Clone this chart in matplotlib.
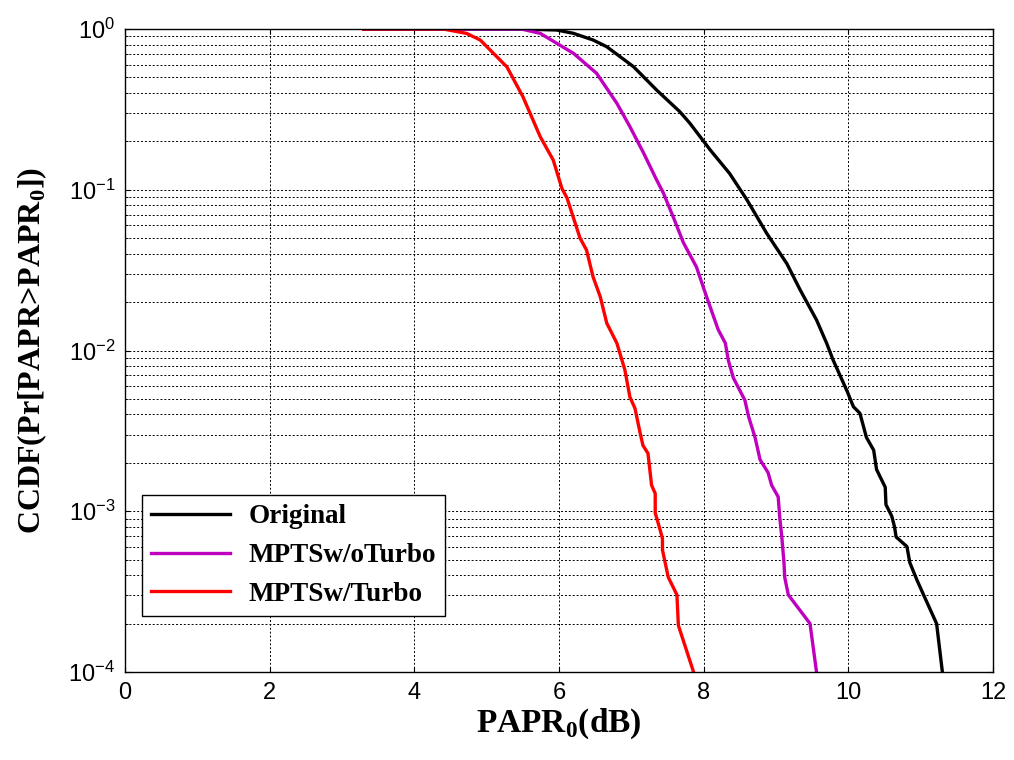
# CCDF of PAPR: original vs MPTS with and without turbo

import matplotlib
matplotlib.use('Agg')
import matplotlib.pyplot as plt
from matplotlib.ticker import LogLocator, NullFormatter

plt.rcParams['mathtext.fontset'] = 'custom'
plt.rcParams['mathtext.rm'] = 'Liberation Sans'
plt.rcParams['mathtext.bf'] = 'Liberation Serif:bold'
plt.rcParams['axes.unicode_minus'] = False

# PAPR0 (dB) / CCDF points for each curve
orig_x = [3.3, 5.48, 5.97, 6.20, 6.47, 6.66, 7.03, 7.35, 7.67, 7.81, 8.09, 8.36, 8.60,
          8.87, 9.15, 9.33, 9.56, 9.70, 9.79, 9.98, 10.07, 10.16, 10.25, 10.35, 10.39,
          10.51, 10.52, 10.60, 10.64, 10.66, 10.81, 10.85, 10.95, 11.04, 11.22, 11.30]
orig_y = [1.0, 1.0, 0.986, 0.940, 0.855, 0.776, 0.583, 0.417, 0.306, 0.259, 0.177, 0.126,
          0.0863, 0.0537, 0.0347, 0.0240, 0.0155, 0.0111, 0.00871, 0.00562, 0.00447,
          0.00407, 0.00288, 0.00240, 0.00182, 0.00141, 0.00110, 0.000933, 0.000794,
          0.000692, 0.000603, 0.000479, 0.000372, 0.000302, 0.000200, 1e-4]

noturbo_x = [3.3, 5.48, 5.74, 6.20, 6.52, 6.80, 6.98, 7.17, 7.35, 7.44, 7.58, 7.72, 7.90,
             8.04, 8.20, 8.30, 8.34, 8.41, 8.57, 8.62, 8.71, 8.78, 8.89, 8.94, 9.03,
             9.05, 9.08, 9.11, 9.12, 9.17, 9.47, 9.56]
noturbo_y = [1.0, 1.0, 0.940, 0.706, 0.530, 0.345, 0.247, 0.169, 0.115, 0.0960, 0.0676,
             0.0468, 0.0331, 0.0216, 0.0135, 0.0111, 0.00871, 0.00676, 0.00490, 0.00389,
             0.00288, 0.00209, 0.00174, 0.00145, 0.00123, 0.000933, 0.000692, 0.000479,
             0.000389, 0.000302, 0.000200, 1e-4]

turbo_x = [3.3, 4.4, 4.72, 4.91, 5.28, 5.50, 5.74, 5.92, 6.04, 6.11, 6.29, 6.38, 6.47,
           6.57, 6.66, 6.80, 6.91, 6.98, 7.05, 7.12, 7.16, 7.23, 7.26, 7.28, 7.33, 7.33,
           7.40, 7.43, 7.43, 7.51, 7.63, 7.65, 7.86]
turbo_y = [1.0, 1.0, 0.94, 0.855, 0.581, 0.380, 0.214, 0.153, 0.102, 0.0891, 0.0501,
           0.0422, 0.0288, 0.0216, 0.0148, 0.0111, 0.00759, 0.00513, 0.00437, 0.00309,
           0.00257, 0.00229, 0.00174, 0.00145, 0.00129, 0.000977, 0.000759, 0.000676,
           0.000575, 0.000389, 0.000302, 0.000195, 1e-4]

labels = ['Original', 'MPTSw/oTurbo', 'MPTSw/Turbo']
colors = ['#000000', '#BF00BF', '#FF0000']

fig = plt.figure(figsize=(10.14, 7.6), dpi=100)
ax = fig.add_axes([0.1233, 0.1158, 0.856, 0.846])

ax.semilogy(orig_x, orig_y, color=colors[0], lw=2.4, label=labels[0])
ax.semilogy(noturbo_x, noturbo_y, color=colors[1], lw=2.4, label=labels[1])
ax.semilogy(turbo_x, turbo_y, color=colors[2], lw=2.4, label=labels[2])

ax.set_xlim(0, 12)
ax.set_ylim(1e-4, 1)
ax.set_xticks(range(0, 13, 2))
ax.yaxis.set_major_locator(LogLocator(base=10, numticks=10))
ax.yaxis.set_minor_locator(LogLocator(base=10, subs=range(2, 10), numticks=10))
ax.yaxis.set_minor_formatter(NullFormatter())

ax.grid(True, which='major', ls=(0, (2, 2)), color='black', lw=0.7)
ax.grid(True, which='minor', axis='y', ls=(0, (2, 2)), color='black', lw=0.7)
ax.tick_params(which='both', direction='in', top=True, right=True,
               labelsize=17, pad=7)
for lab in ax.get_xticklabels() + ax.get_yticklabels():
    lab.set_family('Liberation Sans')
for sp in ax.spines.values():
    sp.set_linewidth(1.0)

ax.set_xlabel(r'PAPR$_{\mathbf{0}}$(dB)', family='Liberation Serif',
              fontweight='bold', fontsize=24, labelpad=2)
ax.set_ylabel(r'CCDF(Pr[PAPR>PAPR$_{\mathbf{0}}$])', family='Liberation Serif',
              fontweight='bold', fontsize=23, labelpad=14)

leg = ax.legend(loc='lower left', bbox_to_anchor=(0.019, 0.087),
                prop={'family': 'Liberation Serif', 'weight': 'bold', 'size': 19.5},
                fancybox=False, framealpha=1, edgecolor='black',
                handlelength=2.9, handletextpad=0.7, labelspacing=0.5,
                borderpad=0.35, borderaxespad=0)
leg.get_frame().set_linewidth(1.0)

fig.savefig('out.png', dpi=100)
